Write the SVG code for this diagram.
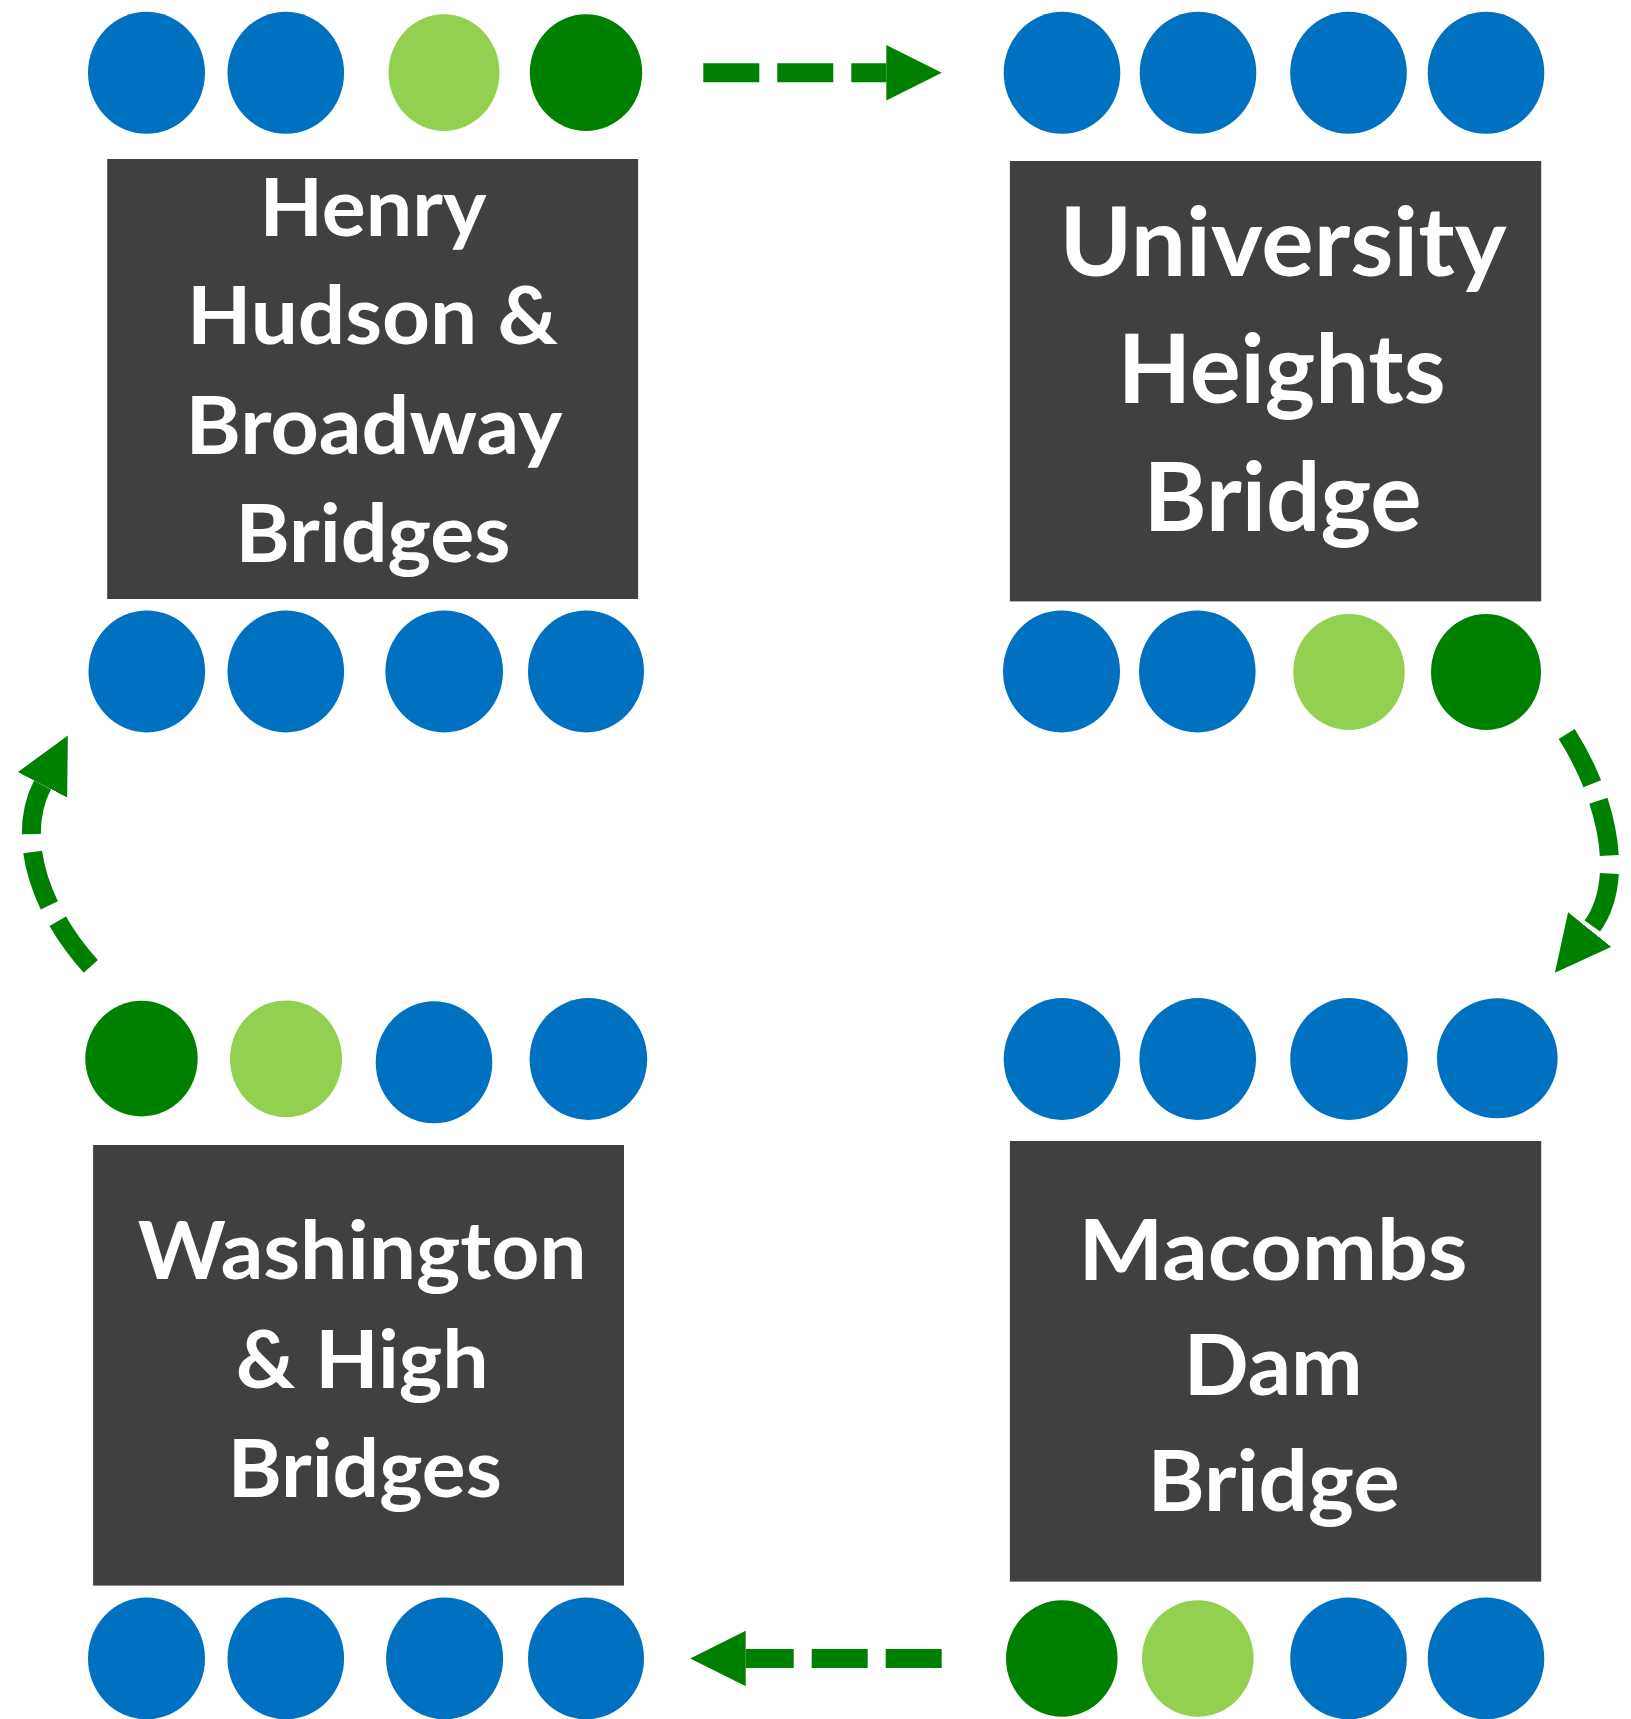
<svg xmlns="http://www.w3.org/2000/svg" width="1631" height="1719" viewBox="0 0 1631 1719">
<style>
.box{fill:#404040}
.lbl{font-family:Lato,"Open Sans","Liberation Sans",sans-serif;font-weight:700;fill:#ffffff;text-anchor:middle}
.b{fill:#0070C0}
.lg{fill:#92D050}
.dg{fill:#008000}
.con{fill:none;stroke:#008000;stroke-width:19;stroke-dasharray:56 18}
</style>
<defs>
<marker id="ah" markerUnits="userSpaceOnUse" markerWidth="60" markerHeight="60" refX="0" refY="27.7" orient="auto" viewBox="0 0 60 60">
<polygon points="0,0 55.5,27.7 0,55.4" fill="#008000"/>
</marker>
</defs>
<rect width="1631" height="1719" fill="#ffffff"/>
<g id="connectors">
<path class="con" d="M703.3 72.8 H886.3" marker-end="url(#ah)"/>
<path class="con" d="M1566.7 734 C1607 797.2 1627.3 882.8 1589.7 929.5" marker-end="url(#ah)"/>
<path class="con" d="M941.7 1658.5 H745.7" marker-end="url(#ah)"/>
<path class="con" d="M90.8 966.3 C40.55 910.8 15.1 838.1 42.5 784.8" marker-end="url(#ah)"/>
</g>
<g id="henry-hudson-broadway">
<ellipse class="b" cx="146.5" cy="72.8" rx="58.5" ry="61"/>
<ellipse class="b" cx="285.8" cy="72.8" rx="58.3" ry="61"/>
<ellipse class="lg" cx="444" cy="72.6" rx="55.5" ry="58.3"/>
<ellipse class="dg" cx="586" cy="72.6" rx="56.2" ry="58.3"/>
<rect class="box" x="107.2" y="159" width="530.9" height="440"/>
<text class="lbl" font-size="79.5" x="373" y="236" textLength="227" lengthAdjust="spacingAndGlyphs">Henry</text>
<text class="lbl" font-size="79.5" x="372.5" y="344" textLength="371" lengthAdjust="spacingAndGlyphs">Hudson &amp;</text>
<text class="lbl" font-size="79.5" x="374" y="453.5" textLength="377" lengthAdjust="spacingAndGlyphs">Broadway</text>
<text class="lbl" font-size="79.5" x="373" y="561.5" textLength="275" lengthAdjust="spacingAndGlyphs">Bridges</text>
<ellipse class="b" cx="146.8" cy="671.4" rx="58.3" ry="61"/>
<ellipse class="b" cx="285.8" cy="671.4" rx="58.3" ry="61"/>
<ellipse class="b" cx="444.2" cy="671.4" rx="58.8" ry="61"/>
<ellipse class="b" cx="586" cy="671.4" rx="58" ry="61"/>
</g>
<g id="university-heights">
<ellipse class="b" cx="1062" cy="72.8" rx="58.3" ry="61"/>
<ellipse class="b" cx="1198" cy="72.8" rx="58.3" ry="61"/>
<ellipse class="b" cx="1348.5" cy="72.8" rx="58.3" ry="61"/>
<ellipse class="b" cx="1486" cy="72.8" rx="58.3" ry="61"/>
<rect class="box" x="1009.9" y="161" width="531.3" height="440.4"/>
<text class="lbl" font-size="95" x="1283" y="275.6" textLength="447" lengthAdjust="spacingAndGlyphs">University</text>
<text class="lbl" font-size="95" x="1281.7" y="403.3" textLength="328" lengthAdjust="spacingAndGlyphs">Heights</text>
<text class="lbl" font-size="95" x="1282.6" y="531" textLength="278" lengthAdjust="spacingAndGlyphs">Bridge</text>
<ellipse class="b" cx="1061.5" cy="671.4" rx="58.5" ry="61"/>
<ellipse class="b" cx="1197.3" cy="671.4" rx="58.3" ry="61"/>
<ellipse class="lg" cx="1349" cy="672" rx="55.7" ry="58"/>
<ellipse class="dg" cx="1486" cy="672" rx="55" ry="58"/>
</g>
<g id="washington-high">
<ellipse class="dg" cx="141.5" cy="1058.6" rx="56.2" ry="57.8"/>
<ellipse class="lg" cx="286" cy="1058.8" rx="56" ry="58.4"/>
<ellipse class="b" cx="434" cy="1062.3" rx="58.3" ry="61"/>
<ellipse class="b" cx="588.4" cy="1059" rx="58.8" ry="61"/>
<rect class="box" x="93.1" y="1145" width="530.9" height="440.6"/>
<text class="lbl" font-size="80" x="362.2" y="1278.8" textLength="449" lengthAdjust="spacingAndGlyphs">Washington</text>
<text class="lbl" font-size="80" x="362.2" y="1387.8" textLength="253" lengthAdjust="spacingAndGlyphs">&amp; High</text>
<text class="lbl" font-size="80" x="364.8" y="1496.8" textLength="274" lengthAdjust="spacingAndGlyphs">Bridges</text>
<ellipse class="b" cx="146.5" cy="1658.4" rx="58.5" ry="61"/>
<ellipse class="b" cx="285.8" cy="1658.4" rx="58.3" ry="61"/>
<ellipse class="b" cx="444.6" cy="1658.4" rx="58.5" ry="61"/>
<ellipse class="b" cx="586" cy="1658.4" rx="58" ry="61"/>
</g>
<g id="macombs-dam">
<ellipse class="b" cx="1062" cy="1059" rx="58.3" ry="61"/>
<ellipse class="b" cx="1197.7" cy="1059" rx="58.3" ry="61"/>
<ellipse class="b" cx="1349" cy="1059" rx="58.8" ry="61"/>
<ellipse class="b" cx="1497.3" cy="1058.3" rx="60.3" ry="60"/>
<rect class="box" x="1009.9" y="1141" width="531.3" height="440.6"/>
<text class="lbl" font-size="85" x="1273" y="1280.4" textLength="389" lengthAdjust="spacingAndGlyphs">Macombs</text>
<text class="lbl" font-size="85" x="1273.2" y="1395" textLength="179" lengthAdjust="spacingAndGlyphs">Dam</text>
<text class="lbl" font-size="85" x="1273.6" y="1510.6" textLength="252" lengthAdjust="spacingAndGlyphs">Bridge</text>
<ellipse class="dg" cx="1061.8" cy="1658.5" rx="55.8" ry="58.3"/>
<ellipse class="lg" cx="1197.8" cy="1658.5" rx="55.8" ry="58.3"/>
<ellipse class="b" cx="1348.5" cy="1658.4" rx="58.3" ry="61"/>
<ellipse class="b" cx="1486" cy="1658.4" rx="58.3" ry="61"/>
</g>
</svg>
